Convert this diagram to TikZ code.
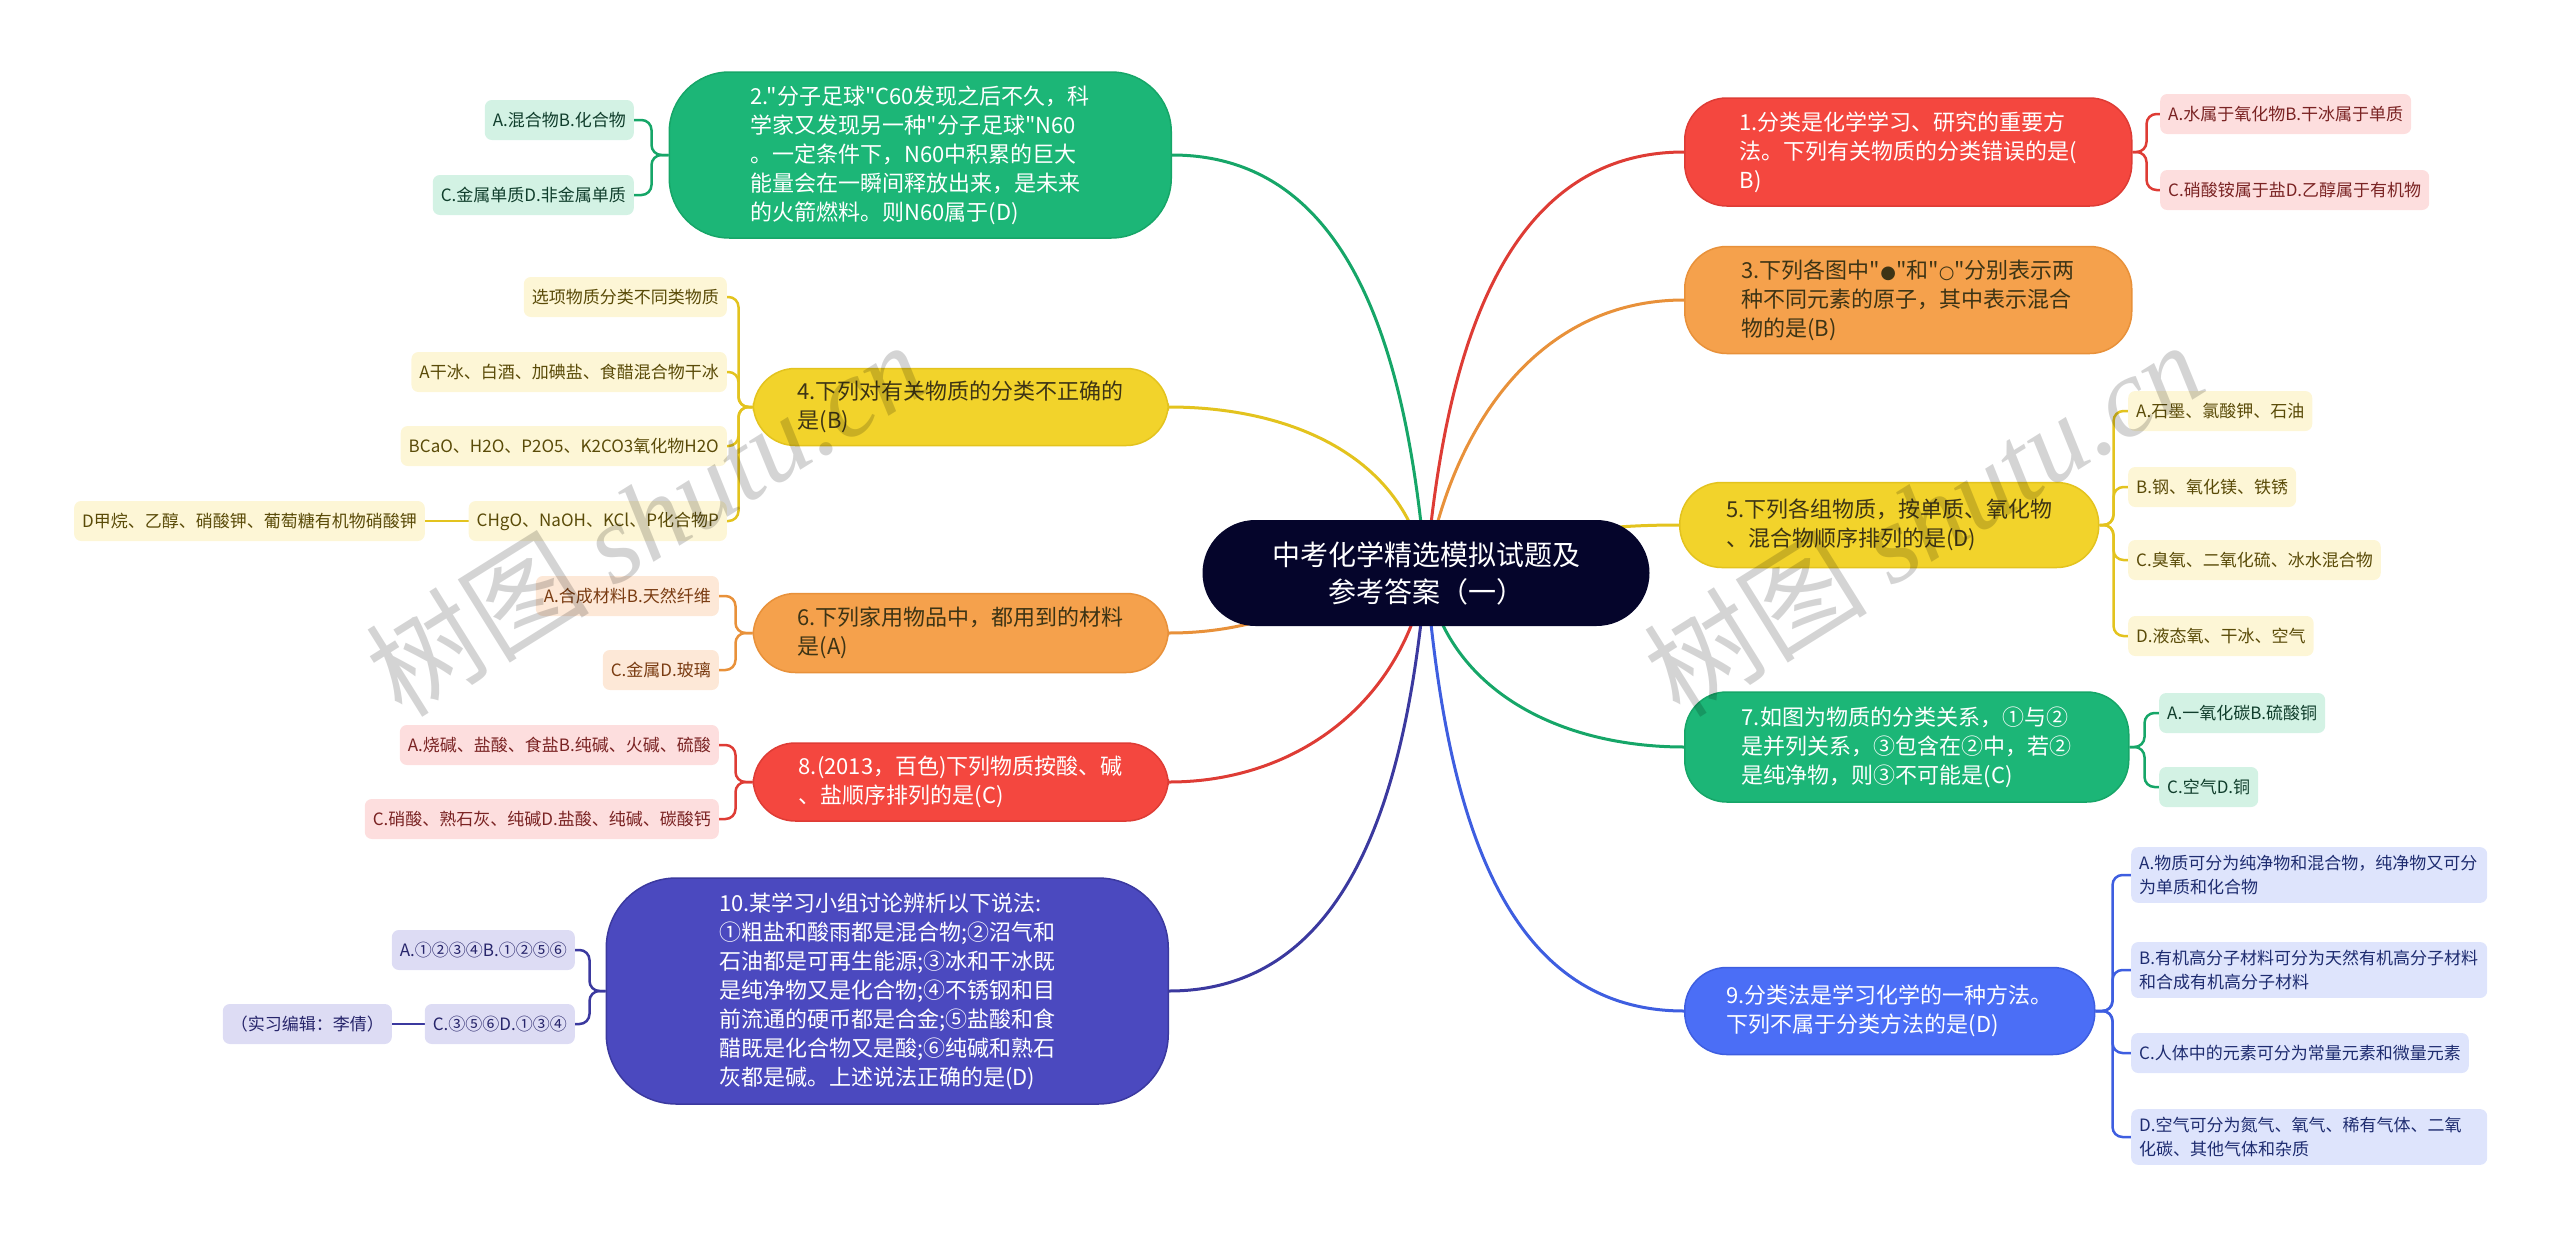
\documentclass[tikz,border=0pt]{standalone}
\usepackage{fontspec}
\setmainfont{Noto Sans CJK SC}[Ligatures=TeXOff]
\newfontfamily\wmlatin{Liberation Serif}
\newfontfamily\dotfont{DejaVu Sans}
\usepackage{tikz}
\usetikzlibrary{positioning,backgrounds}
\definecolor{rootc}{HTML}{05052B}
\definecolor{redc}{HTML}{F4473F}\definecolor{redd}{HTML}{DE3C35}
\definecolor{orgc}{HTML}{F5A14C}\definecolor{orgd}{HTML}{E8913A}
\definecolor{yelc}{HTML}{F2D32B}\definecolor{yeld}{HTML}{E3C31E}
\definecolor{grnc}{HTML}{1CB677}\definecolor{grnd}{HTML}{16A668}
\definecolor{bluc}{HTML}{4B6EF6}\definecolor{blud}{HTML}{3E5EE0}
\definecolor{indc}{HTML}{4B49BF}\definecolor{indd}{HTML}{3B399F}
\definecolor{redl}{HTML}{FDDEDE}\definecolor{redt}{HTML}{7A2323}
\definecolor{orgl}{HTML}{FDE8D7}\definecolor{orgt}{HTML}{7A3C12}
\definecolor{yell}{HTML}{FDF6D6}\definecolor{yelt}{HTML}{5A4B08}
\definecolor{grnl}{HTML}{D3F2E4}\definecolor{grnt}{HTML}{103E2C}
\definecolor{blul}{HTML}{DEE4FC}\definecolor{blut}{HTML}{1E2C70}
\definecolor{indl}{HTML}{DDDCF4}\definecolor{indt}{HTML}{27256B}
\definecolor{darkt}{HTML}{3D3415}
\newcommand\atom[1]{{\dotfont\fontsize{18}{18}\selectfont #1}}
\tikzset{
  root/.style ={fill=rootc,text=white,rounded corners=53pt,minimum width=447pt,minimum height=106pt,
                align=center,font=\fontsize{28}{37}\selectfont},
  topic/.style={rounded corners=42pt,align=left,font=\fontsize{22}{29}\selectfont,line width=1.5pt},
  tred/.style ={topic,fill=redc,draw=redd,text=white},
  torg/.style ={topic,fill=orgc,draw=orgd,text=darkt},
  tyel/.style ={topic,fill=yelc,draw=yeld,text=darkt},
  tgrn/.style ={topic,fill=grnc,draw=grnd,text=white},
  tblu/.style ={topic,fill=bluc,draw=blud,text=white},
  tind/.style ={topic,fill=indc,draw=indd,text=white},
  leaf/.style ={rounded corners=7pt,align=left,font=\fontsize{17}{24}\selectfont,inner xsep=8pt,inner ysep=8pt,
                minimum height=40pt},
  lred/.style ={leaf,fill=redl,text=redt},
  lorg/.style ={leaf,fill=orgl,text=orgt},
  lyel/.style ={leaf,fill=yell,text=yelt},
  lgrn/.style ={leaf,fill=grnl,text=grnt},
  lblu/.style ={leaf,fill=blul,text=blut},
  lind/.style ={leaf,fill=indl,text=indt},
  wide/.style ={text width=340pt},
  link/.style ={line width=3pt},
  sub/.style  ={line width=2.5pt,rounded corners=10pt},
  wm/.style   ={text=black,opacity=.17,rotate=32,font=\fontsize{112}{112}\selectfont},
}
\begin{document}
\begin{tikzpicture}[x=1pt,y=-1pt]
  \useasboundingbox (0,0) rectangle (2560,1245);
  \node[root] (C) at (1426,573) {中考化学精选模拟试题及\\参考答案（一）};

  \node[tred,anchor=west,minimum width=447pt,minimum height=108pt] (n1) at (1684,152)
    {1.分类是化学学习、研究的重要方\\法。下列有关物质的分类错误的是(\\B)};
  \node[lred,anchor=west] (n1a) at (2160,114) {A.水属于氧化物B.干冰属于单质};
  \node[lred,anchor=west] (n1b) at (2160,190) {C.硝酸铵属于盐D.乙醇属于有机物};

  \node[torg,anchor=west,minimum width=447pt,minimum height=107pt] (n3) at (1684,300)
    {3.下列各图中"\atom{●}"和"\atom{○}"分别表示两\\种不同元素的原子，其中表示混合\\物的是(B)};

  \node[tyel,anchor=west,minimum width=419pt,minimum height=85pt] (n5) at (1679,525)
    {5.下列各组物质，按单质、氧化物\\、混合物顺序排列的是(D)};
  \node[lyel,anchor=west] (n5a) at (2128,411) {A.石墨、氯酸钾、石油};
  \node[lyel,anchor=west] (n5b) at (2128,487) {B.钢、氧化镁、铁锈};
  \node[lyel,anchor=west] (n5c) at (2128,560) {C.臭氧、二氧化硫、冰水混合物};
  \node[lyel,anchor=west] (n5d) at (2128,636) {D.液态氧、干冰、空气};

  \node[tgrn,anchor=west,minimum width=444pt,minimum height=110pt] (n7) at (1684,747)
    {7.如图为物质的分类关系，①与②\\是并列关系，③包含在②中，若②\\是纯净物，则③不可能是(C)};
  \node[lgrn,anchor=west] (n7a) at (2159,713) {A.一氧化碳B.硫酸铜};
  \node[lgrn,anchor=west] (n7b) at (2159,787) {C.空气D.铜};

  \node[tblu,anchor=west,minimum width=410pt,minimum height=87pt] (n9) at (1684,1011)
    {9.分类法是学习化学的一种方法。\\下列不属于分类方法的是(D)};
  \node[lblu,wide,anchor=west] (n9a) at (2131,875) {A.物质可分为纯净物和混合物，纯净物又可分\\为单质和化合物};
  \node[lblu,wide,anchor=west] (n9b) at (2131,970) {B.有机高分子材料可分为天然有机高分子材料\\和合成有机高分子材料};
  \node[lblu,anchor=west] (n9c) at (2131,1053) {C.人体中的元素可分为常量元素和微量元素};
  \node[lblu,wide,anchor=west] (n9d) at (2131,1137) {D.空气可分为氮气、氧气、稀有气体、二氧\\化碳、其他气体和杂质};

  \node[tgrn,anchor=east,minimum width=502pt,minimum height=166pt,rounded corners=60pt] (n2) at (1172,155)
    {2."分子足球"C60发现之后不久，科\\学家又发现另一种"分子足球"N60\\。一定条件下，N60中积累的巨大\\能量会在一瞬间释放出来，是未来\\的火箭燃料。则N60属于(D)};
  \node[lgrn,anchor=east] (n2a) at (634,120) {A.混合物B.化合物};
  \node[lgrn,anchor=east] (n2b) at (634,195) {C.金属单质D.非金属单质};

  \node[tyel,anchor=east,minimum width=415pt,minimum height=77pt] (n4) at (1169,407)
    {4.下列对有关物质的分类不正确的\\是(B)};
  \node[lyel,anchor=east] (n4a) at (727,297) {选项物质分类不同类物质};
  \node[lyel,anchor=east] (n4b) at (727,372) {A干冰、白酒、加碘盐、食醋混合物干冰};
  \node[lyel,anchor=east] (n4c) at (727,446) {BCaO、H2O、P2O5、K2CO3氧化物H2O};
  \node[lyel,anchor=east] (n4d) at (727,521) {CHgO、NaOH、KCl、P化合物P};
  \node[lyel,anchor=east] (n4e) at (425,521) {D甲烷、乙醇、硝酸钾、葡萄糖有机物硝酸钾};

  \node[torg,anchor=east,minimum width=415pt,minimum height=79pt] (n6) at (1169,633)
    {6.下列家用物品中，都用到的材料\\是(A)};
  \node[lorg,anchor=east] (n6a) at (719,596) {A.合成材料B.天然纤维};
  \node[lorg,anchor=east] (n6b) at (719,670) {C.金属D.玻璃};

  \node[tred,anchor=east,minimum width=415pt,minimum height=78pt] (n8) at (1169,782)
    {8.(2013，百色)下列物质按酸、碱\\、盐顺序排列的是(C)};
  \node[lred,anchor=east] (n8a) at (719,745) {A.烧碱、盐酸、食盐B.纯碱、火碱、硫酸};
  \node[lred,anchor=east] (n8b) at (719,819) {C.硝酸、熟石灰、纯碱D.盐酸、纯碱、碳酸钙};

  \node[tind,anchor=east,minimum width=562pt,minimum height=226pt,rounded corners=70pt] (n10) at (1169,991)
    {10.某学习小组讨论辨析以下说法:\\①粗盐和酸雨都是混合物;②沼气和\\石油都是可再生能源;③冰和干冰既\\是纯净物又是化合物;④不锈钢和目\\前流通的硬币都是合金;⑤盐酸和食\\醋既是化合物又是酸;⑥纯碱和熟石\\灰都是碱。上述说法正确的是(D)};
  \node[lind,anchor=east] (n10a) at (575,950) {A.①②③④B.①②⑤⑥};
  \node[lind,anchor=east] (n10b) at (575,1024) {C.③⑤⑥D.①③④};
  \node[lind,anchor=east] (n10c) at (392,1024) {（实习编辑：李倩）};

  \begin{scope}[on background layer]
    \draw[link,redd] (C.center) to[out=85,in=180] (n1.west);
    \draw[link,orgd] (C.center) to[out=80,in=180] (n3.west);
    \draw[link,yeld] (C.center) to[out=20,in=180] (n5.west);
    \draw[link,grnd] (C.center) to[out=-80,in=180] (n7.west);
    \draw[link,blud] (C.center) to[out=-85,in=180] (n9.west);
    \draw[link,grnd] (C.center) to[out=95,in=0] (n2.east);
    \draw[link,yeld] (C.center) to[out=100,in=0] (n4.east);
    \draw[link,orgd] (C.center) to[out=190,in=0] (n6.east);
    \draw[link,redd] (C.center) to[out=-100,in=0] (n8.east);
    \draw[link,indd] (C.center) to[out=-95,in=0] (n10.east);
    \foreach \k in {a,b} \draw[sub,redd] (n1.east) -- ++(14,0) |- (n1\k.west);
    \foreach \k in {a,b,c,d} \draw[sub,yeld] (n5.east) -- ++(14,0) |- (n5\k.west);
    \foreach \k in {a,b} \draw[sub,grnd] (n7.east) -- ++(15,0) |- (n7\k.west);
    \foreach \k in {a,b,c,d} \draw[sub,blud] (n9.east) -- ++(17,0) |- (n9\k.west);
    \foreach \k in {a,b} \draw[sub,grnd] (n2.west) -- ++(-17,0) |- (n2\k.east);
    \foreach \k in {a,b,c,d} \draw[sub,yeld] (n4.west) -- ++(-14,0) |- (n4\k.east);
    \foreach \k in {a,b} \draw[sub,orgd] (n6.west) -- ++(-17,0) |- (n6\k.east);
    \foreach \k in {a,b} \draw[sub,redd] (n8.west) -- ++(-17,0) |- (n8\k.east);
    \foreach \k in {a,b} \draw[sub,indd] (n10.west) -- ++(-16,0) |- (n10\k.east);
    \draw[sub,yeld] (n4d.west) -- (n4e.east);
    \draw[sub,indd] (n10b.west) -- (n10c.east);
  \end{scope}

  \node[wm] (wl) at (645,518) {树图 {\wmlatin\itshape shutu.cn}};
  \node[wm] (wr) at (1923,518) {树图 {\wmlatin\itshape shutu.cn}};
\end{tikzpicture}
\end{document}
